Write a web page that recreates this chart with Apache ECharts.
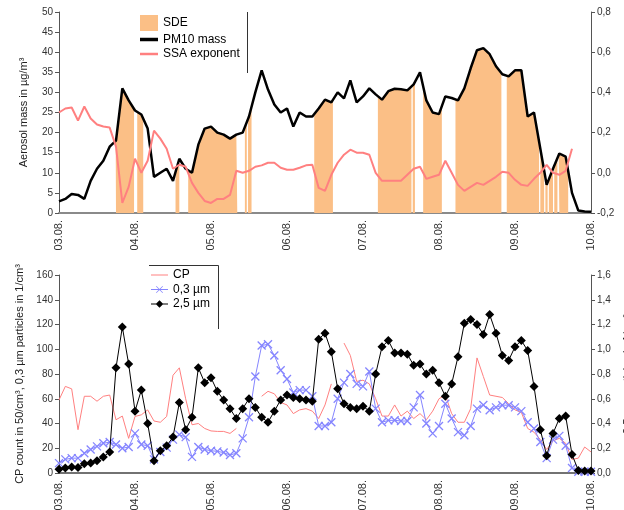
<!DOCTYPE html>
<html><head><meta charset="utf-8">
<script src="https://cdn.jsdelivr.net/npm/echarts@6/dist/echarts.min.js"></script>
<style>html,body{margin:0;padding:0;background:#fff}#c{width:624px;height:510px}</style>
</head><body><div id="c"></div>
<script>
// ---- data (sampled every 2 hours, 03.08. 00:00 -> 10.08. 00:00) ----
const dateLabels = ['03.08.','04.08.','05.08.','06.08.','07.08.','08.08.','09.08.','10.08.'];
const STEP = 2; // hours between samples

// PM10 mass, µg/m³ (left axis, top panel)
const pm10 = [
  2.9, 3.5, 4.7, 4.5, 3.5, 8, 11, 13, 16.5, 18, 31, 28,
  25.5, 24.5, 21, 9, 10, 11, 8, 13.5, 11, 10, 17, 21,
  21.5, 20, 19.5, 18.5, 19.5, 20, 24, 30, 35.5, 30.7, 27, 25,
  26, 21.5, 25, 24, 24, 26, 28.2, 27.5, 30, 28.5, 33, 27.5,
  29, 31, 29.5, 28.2, 30.3, 30.9, 30.8, 30.5, 32, 35, 28, 25,
  24.6, 29, 28.6, 28, 31, 36, 40.5, 41, 39.5, 36.5, 34.5, 34,
  35.5, 35.5, 24, 25, 16, 7, 11, 14.8, 14, 5, 0.6, 0.4,
  0.3
];
// SSA exponent (right axis, top panel)
const ssa = [
  0.30, 0.32, 0.325, 0.26, 0.33, 0.27, 0.24, 0.23, 0.225, 0.13, -0.15, -0.07,
  0.07, 0.0, 0.06, 0.21, 0.17, 0.12, 0.02, 0.04, 0.03, -0.05, -0.1, -0.14,
  -0.15, -0.13, -0.13, -0.11, 0.01, 0.0, 0.01, 0.03, 0.037, 0.05, 0.05, 0.025,
  0.015, 0.015, 0.025, 0.037, 0.04, -0.075, -0.09, -0.01, 0.05, 0.09, 0.115, 0.1,
  0.1, 0.09, 0.0, -0.04, -0.04, -0.04, -0.04, -0.01, 0.02, 0.03, -0.03, -0.02,
  -0.01, 0.06, 0.0, -0.06, -0.09, -0.07, -0.05, -0.06, -0.04, -0.02, 0.005, 0.0,
  -0.035, -0.06, -0.065, -0.03, 0.0, 0.04, 0.0, -0.01, 0.01, 0.12, null, null,
  null
];
// SDE periods, [start hour, end hour]
const sdeIntervals = [
  [17.9, 23.7], [24.7, 26.6], [36.8, 38.0], [40.8, 56.3], [58.7, 59.3], [59.7, 60.8],
  [80.6, 86.5], [100.7, 111.3], [111.7, 112.4], [115.0, 120.9], [125.2, 139.7],
  [141.4, 151.6], [152.0, 153.2], [153.6, 154.3], [154.7, 156.0], [156.4, 157.4], [157.8, 160.8]
];
// CP count in 50/cm³ (left axis, bottom panel)
const cp = [
  59, 70, 68, 35, 62, 62, 58, 62, 63, 43, 46, 28,
  45.7, 47, 51, 42, 41, 45.7, 79, 85, 60, 39, 40, 36,
  34, 33.6, 33.6, 32, 36, null, null, null, 62, 66, 64, 57,
  55, 48, 51, 52, 50, 44, 55, 72, null, 105, 95, 74,
  75, 72, 60, 46, 46, 55, 46, 50, 44, 48, 43, 50,
  60, 63, 48, 41, 41, 52, 93, 78, 63, 62, 61, 56,
  51, 49, 36, 33, 27, 19, 26, 28, 24, 11, 12, 21,
  17
];
// 0,3 µm particles in 1/cm³ (left axis, bottom panel)
const p03 = [
  8, 11, 12, 12, 16, 19, 21.5, 24, 25, 23, 20, 21,
  32, 23, 22, 11, 17, 20.5, 27, 31, 29, 13, 21, 19,
  18, 17.5, 16.5, 14.5, 16, 28, 45, 78, 103, 104, 95, 83,
  76, 65, 67, 67, 62, 38, 38, 41, 60, 73, 80, 72,
  70, 82, 52, 41, 42.5, 42.6, 42, 42, 53, 63, 40, 32,
  38, 56, 44, 33, 30.5, 38, 52, 55, 50.7, 53, 54.8, 54.8,
  53, 50, 41, 36, 25, 12, 27, 30, 22, 4, 1, 1,
  1
];
// 2,5 µm particles (right axis, bottom panel)
const p25 = [
  0.03, 0.04, 0.048, 0.045, 0.075, 0.08, 0.10, 0.13, 0.17, 0.85, 1.18, 0.88,
  0.50, 0.67, 0.40, 0.10, 0.18, 0.22, 0.29, 0.57, 0.35, 0.45, 0.85, 0.73,
  0.77, 0.66, 0.59, 0.52, 0.44, 0.52, 0.60, 0.53, 0.45, 0.41, 0.50, 0.59,
  0.63, 0.61, 0.60, 0.59, 0.58, 1.08, 1.13, 0.98, 0.68, 0.56, 0.53, 0.52,
  0.54, 0.50, 0.80, 1.02, 1.07, 0.97, 0.97, 0.96, 0.87, 0.88, 0.80, 0.83,
  0.73, 0.62, 0.72, 0.94, 1.21, 1.24, 1.20, 1.12, 1.28, 1.13, 0.95, 0.91,
  1.02, 1.07, 0.99, 0.70, 0.35, 0.14, 0.32, 0.44, 0.46, 0.15, 0.02, 0.016,
  0.016
];

// ---- build ----
const FONT = '"Liberation Sans", Arial, sans-serif';
const toXY = arr => arr.map((v, i) => [i * STEP, v == null ? '-' : v]);
const fmtDec = v => v.toFixed(1).replace('.', ',');
function pmAt(h) {
  const i = Math.min(Math.floor(h / STEP), pm10.length - 2);
  const f = (h - i * STEP) / STEP;
  return pm10[i] + (pm10[i + 1] - pm10[i]) * f;
}
const sdeData = [];
sdeIntervals.forEach(([s, e]) => {
  sdeData.push([s, pmAt(s)]);
  pm10.forEach((v, i) => { const h = i * STEP; if (h > s && h < e) sdeData.push([h, v]); });
  sdeData.push([e, pmAt(e)]);
  sdeData.push([e, '-']);
});

const ORANGE = '#fbbf86', PINK = '#ff8080', BLUE = '#8585ff';
// legend icons (line samples)
const ICON_THICK = 'path://M0,0L18,0L18,3.5L0,3.5Z';
const ICON_MID = 'path://M0,0L18,0L18,2.5L0,2.5Z';
const ICON_THIN = 'path://M0,0L17,0L17,1L0,1Z';
const ICON_X = 'path://M0,7.6L17,7.6L17,8.4L0,8.4ZM5,5L5.5,4.5L12,11L11.5,11.5ZM11.5,4.5L12,5L5.5,11.5L5,11Z';
const ICON_D = 'path://M0,7.5L17,7.5L17,8.5L0,8.5ZM8.5,4.2L12.3,8L8.5,11.8L4.7,8Z';

const xCommon = (gi) => ({
  type: 'value', gridIndex: gi, min: 0, max: 168, interval: 24,
  axisLine: { show: true, lineStyle: { color: gi === 0 ? '#8a8a8a' : '#444', width: gi === 0 ? 2 : 1.5 } },
  axisTick: { show: false }, splitLine: { show: false },
  axisLabel: { rotate: 90, fontSize: 11, color: '#333', fontFamily: FONT, margin: 7,
    formatter: v => dateLabels[Math.round(v / 24)] || '' }
});
const yCommon = (gi, pos, min, max, interval, fmt) => ({
  type: 'value', gridIndex: gi, position: pos, min, max, interval,
  axisLine: { show: true, lineStyle: { color: '#555', width: 1 } },
  axisTick: { show: true, length: 4, lineStyle: { color: '#555' } },
  splitLine: { show: false },
  axisLabel: { fontSize: 10, color: '#333', fontFamily: FONT, margin: 6, formatter: fmt },
  nameLocation: 'middle', nameRotate: 90,
  nameTextStyle: { fontSize: 11, color: '#222', fontFamily: FONT }
});

const yTL = Object.assign(yCommon(0, 'left', 0, 50, 5, v => String(v)), { name: 'Aerosol mass in µg/m³', nameGap: 30 });
const yTR = Object.assign(yCommon(0, 'right', -0.2, 0.8, 0.2, fmtDec), { name: 'SSA exponent', nameGap: 31 });
const yBL = Object.assign(yCommon(1, 'left', 0, 160, 20, v => String(v)), { name: 'CP count in 50/cm³, 0,3 µm particles in 1/cm³', nameGap: 30 });
const yBR = Object.assign(yCommon(1, 'right', 0, 1.6, 0.2, fmtDec), { name: '2,5 µm particles in 1/cm³', nameGap: 31 });

const legendText = { fontSize: 12, color: '#000', fontFamily: FONT };
const option = {
  animation: false,
  backgroundColor: '#fff',
  textStyle: { fontFamily: FONT },
  grid: [
    { left: 59, top: 12, width: 532, height: 201, containLabel: false, outerBoundsMode: 'none' },
    { left: 59, top: 275, width: 532, height: 198, containLabel: false, outerBoundsMode: 'none' }
  ],
  xAxis: [xCommon(0), xCommon(1)],
  yAxis: [yTL, yTR, yBL, yBR],
  legend: [
    { left: 140, top: 15, orient: 'vertical', padding: 0, itemWidth: 18, itemHeight: 16, itemGap: 2.5,
      selectedMode: false, textStyle: legendText, symbolKeepAspect: true,
      data: [{ name: 'SDE', icon: 'rect' }, { name: 'PM10 mass', icon: ICON_THICK }, { name: 'SSA exponent', icon: ICON_MID }] },
    { left: 151, top: 269, orient: 'vertical', padding: 0, itemWidth: 17, itemHeight: 16, itemGap: 2.5,
      selectedMode: false, textStyle: legendText, symbolKeepAspect: true,
      data: [{ name: 'CP', icon: ICON_THIN },
             { name: '0,3 µm', icon: ICON_X, itemStyle: { borderWidth: 0 } },
             { name: '2,5 µm', icon: ICON_D, itemStyle: { borderWidth: 0 } }] }
  ],
  graphic: [
    { type: 'line', shape: { x1: 247.5, y1: 12, x2: 247.5, y2: 73 }, style: { stroke: '#333', lineWidth: 1 } },
    { type: 'line', shape: { x1: 149, y1: 265.5, x2: 218.5, y2: 265.5 }, style: { stroke: '#333', lineWidth: 1 } },
    { type: 'line', shape: { x1: 218.5, y1: 265.5, x2: 218.5, y2: 329 }, style: { stroke: '#333', lineWidth: 1 } }
  ],
  series: [
    { name: 'SDE', type: 'line', xAxisIndex: 0, yAxisIndex: 0, data: sdeData, symbol: 'none',
      connectNulls: false, lineStyle: { width: 0 }, itemStyle: { color: ORANGE },
      areaStyle: { color: ORANGE, opacity: 1 }, z: 1 },
    { name: 'PM10 mass', type: 'line', xAxisIndex: 0, yAxisIndex: 0, data: toXY(pm10), symbol: 'none',
      lineStyle: { color: '#000', width: 2.5 }, itemStyle: { color: '#000' }, z: 3 },
    { name: 'SSA exponent', type: 'line', xAxisIndex: 0, yAxisIndex: 1, data: toXY(ssa), symbol: 'none',
      connectNulls: false, lineStyle: { color: PINK, width: 2 }, itemStyle: { color: PINK }, z: 4 },
    { name: 'CP', type: 'line', xAxisIndex: 1, yAxisIndex: 2, data: toXY(cp), symbol: 'none',
      connectNulls: false, lineStyle: { color: PINK, width: 1 }, itemStyle: { color: PINK }, z: 2 },
    { name: '0,3 µm', type: 'line', xAxisIndex: 1, yAxisIndex: 2, data: toXY(p03),
      symbol: 'path://M0,0L10,10M10,0L0,10', symbolSize: 8, showSymbol: true,
      lineStyle: { color: BLUE, width: 1 }, itemStyle: { color: BLUE, borderColor: BLUE, borderWidth: 1.3 }, z: 3 },
    { name: '2,5 µm', type: 'line', xAxisIndex: 1, yAxisIndex: 3, data: toXY(p25),
      symbol: 'diamond', symbolSize: 9, showSymbol: true,
      lineStyle: { color: '#000', width: 1 }, itemStyle: { color: '#000' }, z: 4 }
  ]
};
const chart = echarts.init(document.getElementById('c'), null, { renderer: 'canvas' });
chart.setOption(option);
</script>
</body></html>
